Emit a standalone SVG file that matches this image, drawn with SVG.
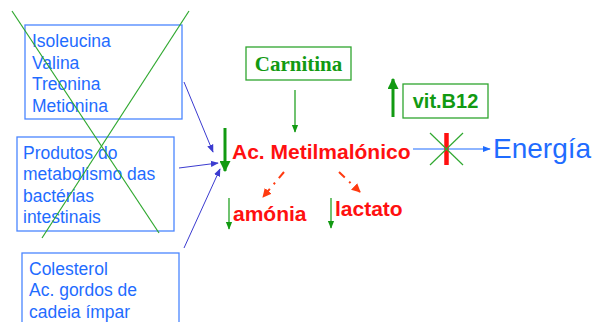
<svg xmlns="http://www.w3.org/2000/svg" width="593" height="322" viewBox="0 0 593 322">
  <style>
    .src { fill: none; stroke: #4a86ff; stroke-width: 1.3; }
    .srct { font-family: "Liberation Sans", Arial, sans-serif; font-size: 17.5px; fill: #1f6cff; }
    .gbox { fill: none; stroke: #2ea52e; stroke-width: 1.3; }
    .feed { stroke: #3b3bd0; stroke-width: 1; fill: none; marker-end: url(#hBlue); }
    .gthin { stroke: #129a12; stroke-width: 1.2; fill: none; }
    .cross { stroke: #2fa82f; stroke-width: 1.2; fill: none; }
    .red { font-family: "Liberation Sans", Arial, sans-serif; font-weight: bold; font-size: 21px; fill: #ff1010; }
    .dash { stroke: #ff3a10; stroke-width: 2; fill: none; stroke-dasharray: 8 6 2 6; marker-end: url(#hRed); }
  </style>
  <defs>
    <marker id="hBlue" viewBox="0 0 10 10" refX="9" refY="5" markerWidth="8" markerHeight="8" markerUnits="userSpaceOnUse" orient="auto">
      <path d="M0,1 L10,5 L0,9 Z" fill="#3b3bd0"/>
    </marker>
    <marker id="hGreen" viewBox="0 0 10 10" refX="9" refY="5" markerWidth="8" markerHeight="8" markerUnits="userSpaceOnUse" orient="auto">
      <path d="M0,1 L10,5 L0,9 Z" fill="#129a12"/>
    </marker>
    <marker id="hGreenBig" viewBox="0 0 10 10" refX="9" refY="5" markerWidth="11" markerHeight="11" markerUnits="userSpaceOnUse" orient="auto">
      <path d="M0,0 L10,5 L0,10 Z" fill="#129a12"/>
    </marker>
    <marker id="hRed" viewBox="0 0 10 10" refX="9" refY="5" markerWidth="9" markerHeight="9" markerUnits="userSpaceOnUse" orient="auto">
      <path d="M0,0 L10,5 L0,10 Z" fill="#ff3a10"/>
    </marker>
    <marker id="hEnergy" viewBox="0 0 10 10" refX="9" refY="5" markerWidth="8" markerHeight="8" markerUnits="userSpaceOnUse" orient="auto">
      <path d="M0,1 L10,5 L0,9 Z" fill="#1f6cff"/>
    </marker>
  </defs>

  <!-- source boxes -->
  <g id="aminoacidos">
    <rect class="src" x="25" y="25" width="157" height="94"/>
    <text class="srct" x="32" y="47">Isoleucina</text>
    <text class="srct" x="32" y="68.5">Valina</text>
    <text class="srct" x="32" y="90">Treonina</text>
    <text class="srct" x="32" y="111.5">Metionina</text>
  </g>
  <g id="bacterias">
    <rect class="src" x="17" y="137" width="157" height="94"/>
    <text class="srct" x="23" y="158.5">Produtos do</text>
    <text class="srct" x="23" y="180">metabolismo das</text>
    <text class="srct" x="23" y="201.5">bactérias</text>
    <text class="srct" x="23" y="223">intestinais</text>
  </g>
  <g id="colesterol">
    <rect class="src" x="22" y="253" width="157" height="80"/>
    <text class="srct" x="29" y="274.5">Colesterol</text>
    <text class="srct" x="29" y="296">Ac. gordos de</text>
    <text class="srct" x="29" y="317.5">cadeia ímpar</text>
  </g>

  <!-- crossing-out of the first two sources -->
  <g id="cruz-fontes">
    <line class="cross" x1="12" y1="11" x2="159" y2="233"/>
    <line class="cross" x1="189" y1="11" x2="42" y2="238"/>
  </g>

  <g id="carnitina">
    <rect class="gbox" x="246" y="47" width="105" height="33"/>
    <text x="298.5" y="71" text-anchor="middle" font-family="Liberation Serif, Times New Roman, serif" font-weight="bold" font-size="21" fill="#129a12">Carnitina</text>
  </g>

  <g id="vitB12">
    <rect class="gbox" x="403" y="84" width="85" height="34"/>
    <text x="445.5" y="108" text-anchor="middle" font-family="Liberation Sans, Arial, sans-serif" font-weight="bold" font-size="20" fill="#129a12">vit.B12</text>
  </g>

  <g id="metilmalonico">
    <text class="red" x="232" y="159">Ac. Metilmalónico</text>
  </g>
  <g id="amonia">
    <text class="red" x="233" y="221">amónia</text>
  </g>
  <g id="lactato">
    <text class="red" x="335" y="216">lactato</text>
  </g>
  <g id="energia">
    <text x="493" y="158" font-family="Liberation Sans, Arial, sans-serif" font-size="28" fill="#1f6cff">Energía</text>
  </g>

  <!-- connectors -->
  <g id="connectors">
    <line class="feed" x1="184" y1="82" x2="213" y2="152"/>
    <line class="feed" x1="179" y1="168" x2="218" y2="163"/>
    <line class="feed" x1="184" y1="248" x2="220" y2="169"/>

    <line stroke="#129a12" stroke-width="3" x1="225" y1="128" x2="225" y2="171" marker-end="url(#hGreenBig)"/>
    <line class="gthin" x1="295" y1="90" x2="295" y2="132" marker-end="url(#hGreen)"/>
    <line stroke="#129a12" stroke-width="3" x1="393" y1="117" x2="393" y2="79" marker-end="url(#hGreenBig)"/>

    <line class="dash" x1="284" y1="172" x2="263" y2="197"/>
    <line class="dash" x1="339" y1="172" x2="360" y2="192"/>

    <line class="gthin" x1="229" y1="198" x2="229" y2="229" marker-end="url(#hGreen)"/>
    <line class="gthin" x1="331" y1="198" x2="331" y2="228" marker-end="url(#hGreen)"/>

    <line stroke="#1f6cff" stroke-width="1.2" x1="413" y1="149" x2="490" y2="149" marker-end="url(#hEnergy)"/>
    <line stroke="#ff1010" stroke-width="4.5" x1="446.5" y1="133" x2="446.5" y2="165"/>
    <line class="cross" x1="430" y1="133" x2="463" y2="165"/>
    <line class="cross" x1="463" y1="133" x2="430" y2="165"/>
  </g>
</svg>
